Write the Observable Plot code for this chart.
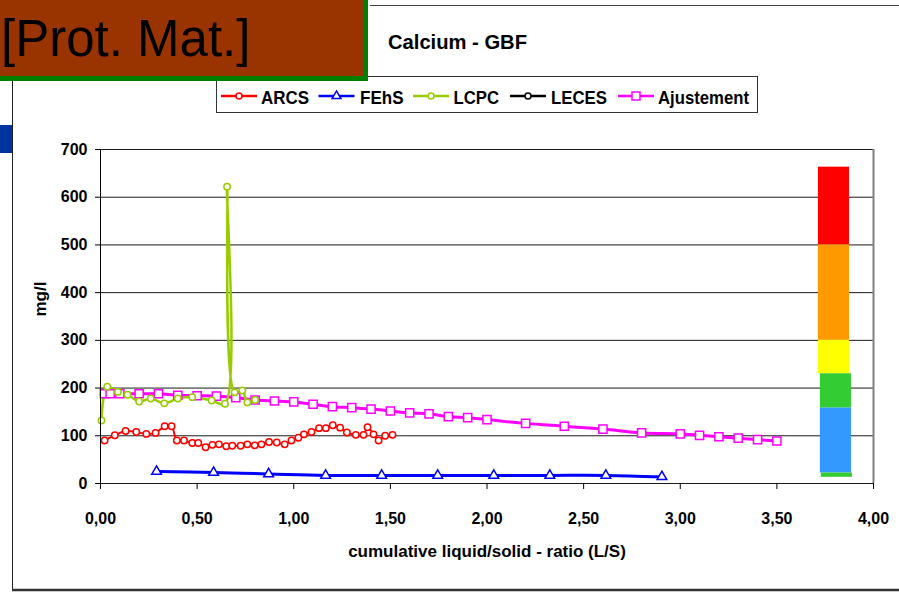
<!DOCTYPE html>
<html>
<head>
<meta charset="utf-8">
<script src="https://cdn.jsdelivr.net/npm/d3@7"></script>
<script src="https://cdn.jsdelivr.net/npm/@observablehq/plot@0.6"></script>
<style>
  body { margin: 0; background: #fff; }
  #wrap { position: relative; width: 899px; height: 596px; overflow: hidden; background: #fff; }
  #wrap svg.deco { position: absolute; left: 0; top: 0; pointer-events: none; }
</style>
</head>
<body>
<div id="wrap"></div>
<script>
// Calcium leaching – GBF: concentrations versus cumulative L/S ratio
const FONT = '"Liberation Sans", Arial, Helvetica, sans-serif';

const xTicks = [0, 0.5, 1, 1.5, 2, 2.5, 3, 3.5, 4];
const yTicks = [0, 100, 200, 300, 400, 500, 600, 700];

// ARCS
const arcsX = [0.021, 0.074, 0.130, 0.185, 0.237, 0.285, 0.332, 0.368, 0.395, 0.432,
               0.475, 0.506, 0.544, 0.579, 0.613, 0.651, 0.682, 0.725, 0.760, 0.798,
               0.833, 0.872, 0.912, 0.953, 0.988, 1.024, 1.053, 1.092, 1.131, 1.166,
               1.202, 1.240, 1.275, 1.321, 1.361, 1.382, 1.413, 1.439, 1.473, 1.511];
const arcsY = [90, 101, 110, 108, 104, 106, 120, 120, 90, 90,
               85, 85, 76, 81, 82, 78, 79, 79, 82, 80,
               82, 87, 86, 82, 90, 96, 103, 108, 116, 116,
               122, 117, 107, 102, 102, 118, 103, 90, 100, 102];

// FEhS
const fehsX = [0.29, 0.585, 0.87, 1.165, 1.455, 1.745, 2.035, 2.325, 2.615, 2.905];
const fehsY = [25, 23, 20, 17, 17, 17, 17, 17, 17, 14];

// LCPC
const lcpcX = [0.005, 0.035, 0.09, 0.14, 0.2, 0.26, 0.33, 0.40, 0.475, 0.575,
               0.644, 0.655, 0.694, 0.734, 0.76, 0.80];
const lcpcY = [132, 203, 192, 186, 172, 178, 168, 178, 181, 174,
               167, 622, 191, 195, 170, 175];

// LECES (no values reported for calcium)
const lecesX = [];
const lecesY = [];

// Ajustement (fitted curve)
const ajustX = [0.02, 0.05, 0.1, 0.2, 0.3, 0.4, 0.5, 0.6, 0.7, 0.8, 0.9, 1.0, 1.1, 1.2, 1.3,
                1.4, 1.5, 1.6, 1.7, 1.8, 1.9, 2.0, 2.2, 2.4, 2.6, 2.8, 3.0, 3.1, 3.2, 3.3, 3.4, 3.5];
const ajustY = [188, 188, 188, 188, 188, 185, 184, 183, 180, 175, 173, 171, 166, 161, 159,
                156, 152, 148, 146, 140, 138, 134, 126, 120, 114, 106, 104, 101, 98, 95, 92, 89];

// Classification bands (mg/l)
const bandLow   = [500, 300, 230, 158, 22, 13];
const bandHigh  = [663, 500, 300, 230, 158, 22];
const bandColor = ["#ff0000", "#ff9900", "#ffff00", "#33cc33", "#3399ff", "#33cc33"];

const pts = (xs, ys) => xs.map((x, i) => ({x, y: ys[i]}));
const arcs = pts(arcsX, arcsY);
const fehs = pts(fehsX, fehsY);
const lcpc = pts(lcpcX, lcpcY);
const leces = pts(lecesX, lecesY);
const ajust = pts(ajustX, ajustY);

// the colour column sits at the right end of the frame
const colLeft = [3.715, 3.715, 3.715, 3.725, 3.725, 3.73];
const colRight = [3.876, 3.876, 3.876, 3.886, 3.886, 3.891];
const bands = bandLow.map((lo, i) => ({lo, hi: bandHigh[i], c: bandColor[i], x1: colLeft[i], x2: colRight[i]}));

const series = [
  {data: ajust, color: "#ff00ff", width: 3, symbol: "square", r: 4.6},
  {data: arcs, color: "#ff0000", width: 2, symbol: "circle", r: 3.2},
  {data: lcpc, color: "#99cc00", width: 2.5, symbol: "circle", r: 3.2},
  {data: leces, color: "#000000", width: 2, symbol: "circle", r: 3.2},
  {data: fehs, color: "#0000ff", width: 3, symbol: "triangle", r: 3.6}
];

const marks = [
  Plot.ruleY(yTicks, {stroke: "#1a1a1a", strokeWidth: 1}),
  Plot.ruleX([4], {stroke: "#808080", strokeWidth: 2}),
  Plot.rect(bands, {x1: "x1", x2: "x2", y1: "lo", y2: "hi", fill: "c"}),
];
for (const s of series) {
  marks.push(Plot.line(s.data, {x: "x", y: "y", stroke: s.color, strokeWidth: s.width, curve: "catmull-rom"}));
}
for (const s of series) {
  marks.push(Plot.dot(s.data, {x: "x", y: "y", symbol: s.symbol, r: s.r, stroke: s.color, strokeWidth: 1.5, fill: "#fff"}));
}
marks.push(
  Plot.ruleX([0], {stroke: "#000", strokeWidth: 1}),
  Plot.axisY(yTicks, {tickSize: 5, tickPadding: 8, fontSize: 16, fontWeight: "bold", label: null}),
  Plot.axisX(xTicks, {tickSize: 6, tickPadding: 23, fontSize: 16, fontWeight: "bold", label: null,
                      tickFormat: d => d.toFixed(2).replace(".", ",")}),
  Plot.text(["mg/l"], {frameAnchor: "left", dx: -60, rotate: -90, fontSize: 17, fontWeight: "bold", fill: "#000"}),
  Plot.text(["cumulative liquid/solid - ratio (L/S)"], {frameAnchor: "bottom", dy: 73, fontSize: 17, fontWeight: "bold", fill: "#000"})
);

const chart = Plot.plot({
  width: 899,
  height: 596,
  marginLeft: 100,
  marginRight: 26,
  marginTop: 149,
  marginBottom: 113,
  x: {domain: [0, 4]},
  y: {domain: [0, 700]},
  style: {fontFamily: FONT, color: "#000", background: "#fff"},
  marks
});
const wrap = document.getElementById("wrap");
wrap.appendChild(chart);

// Frame, header box, title and legend
const W = 899, H = 596;
const deco = d3.select(wrap).append("svg").attr("class", "deco")
  .attr("width", W).attr("height", H).attr("viewBox", `0 0 ${W} ${H}`);

deco.append("line").attr("x1", 370).attr("x2", W).attr("y1", 5.5).attr("y2", 5.5).attr("stroke", "#444").attr("stroke-width", 1);
deco.append("line").attr("x1", 12.5).attr("x2", 12.5).attr("y1", 78).attr("y2", 591).attr("stroke", "#222").attr("stroke-width", 1);
deco.append("line").attr("x1", 12).attr("x2", W).attr("y1", 590).attr("y2", 590).attr("stroke", "#333").attr("stroke-width", 2.5);
deco.append("rect").attr("x", 0).attr("y", 125).attr("width", 12).attr("height", 28).attr("fill", "#0033a0");

deco.append("text").attr("x", 388).attr("y", 49).attr("font-family", FONT).attr("font-weight", "bold")
  .attr("font-size", 20).attr("textLength", 139).attr("lengthAdjust", "spacingAndGlyphs").text("Calcium - GBF");

// legend
const lg = deco.append("g");
lg.append("rect").attr("x", 216.5).attr("y", 76.5).attr("width", 541).attr("height", 36)
  .attr("fill", "#fff").attr("stroke", "#333").attr("stroke-width", 1);
const legendItems = [
  {name: "ARCS", color: "#ff0000", symbol: "circle", lx: 221, tx: 261, tw: 48},
  {name: "FEhS", color: "#0000ff", symbol: "triangle", lx: 318.5, tx: 360, tw: 43.5},
  {name: "LCPC", color: "#99cc00", symbol: "circle", lx: 413, tx: 453.5, tw: 45.5},
  {name: "LECES", color: "#000000", symbol: "circle", lx: 510, tx: 551, tw: 56},
  {name: "Ajustement", color: "#ff00ff", symbol: "square", lx: 618, tx: 658, tw: 91}
];
const sym = {circle: d3.symbolCircle, triangle: d3.symbolTriangle, square: d3.symbolSquare};
const symSize = {circle: 28, triangle: 34, square: 64};
for (const it of legendItems) {
  const cy = 96;
  lg.append("line").attr("x1", it.lx).attr("x2", it.lx + 36).attr("y1", cy).attr("y2", cy)
    .attr("stroke", it.color).attr("stroke-width", 2.5);
  lg.append("path").attr("d", d3.symbol(sym[it.symbol], symSize[it.symbol])())
    .attr("transform", `translate(${it.lx + 18},${cy})`)
    .attr("fill", "#fff").attr("stroke", it.color).attr("stroke-width", 1.5);
  lg.append("text").attr("x", it.tx).attr("y", 103.5).attr("font-family", FONT).attr("font-weight", "bold")
    .attr("font-size", 19).attr("textLength", it.tw).attr("lengthAdjust", "spacingAndGlyphs").text(it.name);
}

// header box
deco.append("rect").attr("x", 0).attr("y", 0).attr("width", 368).attr("height", 81).attr("fill", "#008000");
deco.append("rect").attr("x", 0).attr("y", 0).attr("width", 363).attr("height", 76).attr("fill", "#993300");
deco.append("text").attr("x", 1).attr("y", 56).attr("font-family", FONT).attr("font-size", 51)
  .attr("fill", "#000").text("[Prot. Mat.]");
</script>
</body>
</html>
